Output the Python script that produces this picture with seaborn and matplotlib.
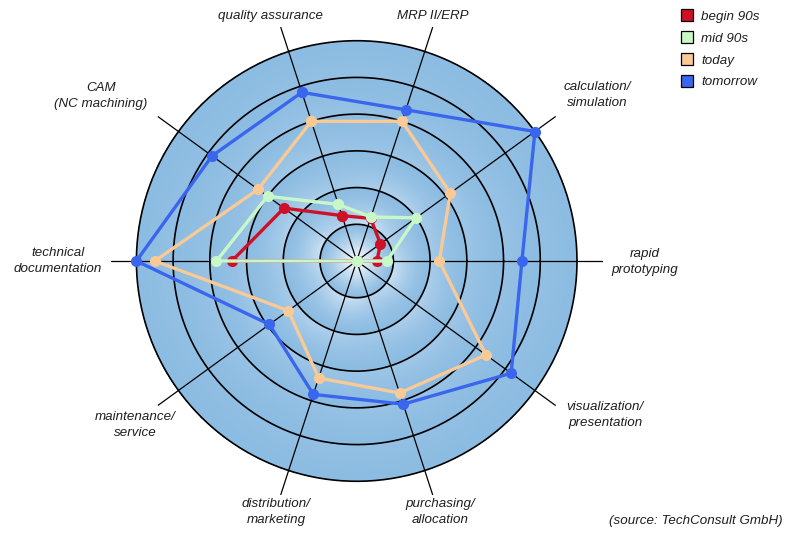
import numpy as np
import pandas as pd
import matplotlib
matplotlib.use("Agg")
import matplotlib.pyplot as plt
import seaborn as sns
from matplotlib.colors import to_rgb, LinearSegmentedColormap
from matplotlib.lines import Line2D

# ---------------- data ----------------
categories = ["quality assurance", "MRP II/ERP", "calculation/\nsimulation",
              "rapid\nprototyping", "visualization/\npresentation",
              "purchasing/\nallocation", "distribution/\nmarketing",
              "maintenance/\nservice", "technical\ndocumentation",
              "CAM\n(NC machining)"]
series_names = ["begin 90s", "mid 90s", "today", "tomorrow"]
begin_90s = [1.3, 1.22, 0.8, 0.55, 0, 0, 0, 0, 3.4, 2.45]
mid_90s = [1.62, 1.26, 2.0, 0.82, 0, 0, 0, 0, 3.82, 3.0]
today = [4.0, 4.0, 3.15, 2.25, 4.35, 3.78, 3.35, 2.3, 5.5, 3.32]
tomorrow = [4.83, 4.33, 6.0, 4.5, 5.2, 4.1, 3.82, 2.94, 6.0, 4.87]
ring_levels = [1, 2, 3, 4, 5, 6]
source_note = "(source: TechConsult GmbH)"

# ---------------- styling ----------------
colors = {"begin 90s": "#CE1126", "mid 90s": "#C8F7C8",
          "today": "#F9C996", "tomorrow": "#3A66EE"}
W, H = 785, 533
sns.set_theme(style="white")
plt.rcParams["font.family"] = ["Liberation Sans", "DejaVu Sans"]
txt_color = "#1e1e1e"

fig = plt.figure(figsize=(W / 100, H / 100), dpi=100)
cx, cy, R = 356.7, 261.0, 246.0  # pixels from top-left
rmax = 6.7
ax = fig.add_axes([(cx - R) / W, (H - cy - R) / H, 2 * R / W, 2 * R / H],
                  projection="polar")
ax.set_theta_zero_location("E")
ax.set_theta_direction(1)
ax.grid(False)
ax.spines["polar"].set_visible(False)
ax.set_facecolor("none")

n = len(categories)
angles = np.deg2rad(108 - 36 * np.arange(n))

# background gradient disc: white glow in the centre, each ring band
# lighter at its inner edge, fading to blue outward
th = np.linspace(0, 2 * np.pi, 721)
rr = np.linspace(0, ring_levels[-1], 600)
TH, RR = np.meshgrid(th, rr)
k = np.floor(RR)
frac = RR - k
amp = np.where(k == 0, 1.0, 0.55 * np.exp(-(k - 1) / 1.8))
angmod = 0.65 + 0.35 * np.cos(2 * TH + 0.6 * k) ** 2
amp = np.where(k == 0, amp, amp * angmod)
light = amp * (1 - frac) ** np.where(k == 0, 1.3, 1.6)
mix = np.clip(1 - light, 0, 1)
blue = np.array(to_rgb("#8DBCE2"))
ax.pcolormesh(TH, RR, mix, cmap=LinearSegmentedColormap.from_list("bg", ["white", blue]),
              vmin=0, vmax=1, shading="auto", zorder=0, rasterized=True)

# rings and spokes
tf = np.linspace(0, 2 * np.pi, 500)
for lvl in ring_levels:
    ax.plot(tf, np.full_like(tf, lvl), color="black", lw=1.2, zorder=1)
for a in angles:
    ax.plot([a, a], [0, rmax], color="black", lw=0.9, zorder=1)

# series (closed polygons)
rows = []
for name, vals in zip(series_names, [begin_90s, mid_90s, today, tomorrow]):
    idx = list(range(n)) + [0]
    for j, i in enumerate(idx):
        rows.append({"series": name, "order": j, "theta": angles[i], "value": vals[i]})
df = pd.DataFrame(rows)
for name in series_names:
    sub = df[df["series"] == name]
    sns.lineplot(data=sub, x="theta", y="value", sort=False, estimator=None,
                 color=colors[name], lw=2.4, marker="o", markersize=8,
                 markeredgewidth=0, ax=ax, legend=False, zorder=3)
ax.set_xlabel("")
ax.set_ylabel("")
ax.set_xticks([])
ax.set_yticks([])
ax.grid(False)
ax.set_ylim(0, rmax)

# category labels (pixel positions)
label_pos = [(271, 16), (433, 16), (597, 95), (645, 262), (605, 415),
             (440, 512), (276, 512), (135, 425), (58, 261), (101, 96)]
for lab, (px, py) in zip(categories, label_pos):
    fig.text(px / W, 1 - py / H, lab, ha="center", va="center", style="italic",
             fontsize=9.6, color=txt_color, linespacing=1.55)

fig.text(783 / W, 1 - 521 / H, source_note, ha="right", va="center",
         style="italic", fontsize=9.6, color=txt_color)

handles = [Line2D([], [], marker="s", linestyle="none", markersize=8,
                  markerfacecolor=colors[s], markeredgecolor="black",
                  markeredgewidth=0.9) for s in series_names]
leg = fig.legend(handles, series_names, loc="upper left",
                 bbox_to_anchor=(675 / W, 1 - 5 / H), frameon=False,
                 prop={"style": "italic", "size": 9.6}, handletextpad=0.55,
                 labelspacing=0.72, handlelength=1.0, borderaxespad=0)
for t in leg.get_texts():
    t.set_color(txt_color)

fig.savefig("out.png", dpi=100)
